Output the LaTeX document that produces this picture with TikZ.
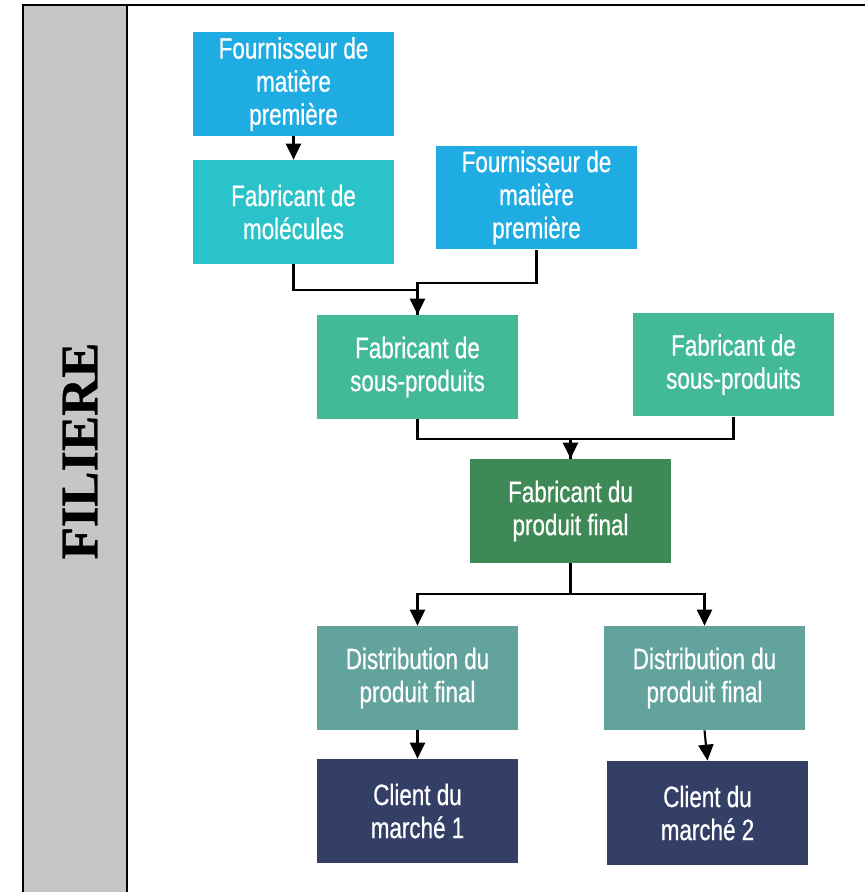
\documentclass[tikz,border=0pt]{standalone}
\usepackage{fontspec}
\setmainfont{Liberation Sans}[FakeStretch=0.76, FakeBold=0.6]
\newfontfamily\titlefont{Liberation Serif}[FakeBold=0.8]
\usepackage{xcolor}
\usetikzlibrary{arrows.meta,positioning}

\definecolor{fournblue}{HTML}{1FACE2}
\definecolor{molteal}{HTML}{29C3C9}
\definecolor{sousgreen}{HTML}{43BA97}
\definecolor{finalgreen}{HTML}{3E8955}
\definecolor{distteal}{HTML}{62A39E}
\definecolor{clientblue}{HTML}{343F68}
\definecolor{bandgray}{HTML}{C6C6C6}

\begin{document}
\begin{tikzpicture}[
    x=0.02cm, y=-0.02cm,
    box/.style={rectangle, minimum width=4.02cm, minimum height=2.08cm, inner sep=0pt, align=center, text=white, font=\fontsize{16.8}{18.8}\selectfont},
    fourn/.style={box, fill=fournblue},
    molec/.style={box, fill=molteal},
    sousp/.style={box, fill=sousgreen},
    final/.style={box, fill=finalgreen},
    distr/.style={box, fill=distteal},
    client/.style={box, fill=clientblue},
    arrow/.style={-{Triangle[width=0.3cm, length=0.32cm]}, line width=1.2pt},
    link/.style={line width=1.2pt}
]
    \useasboundingbox (0,0) rectangle (865,892);

    % Frame and side band
    \fill[bandgray] (23,5) rectangle (127,892);
    \draw[line width=1.5pt] (23,892) -- (23,5) -- (865,5);
    \draw[line width=1.2pt] (127,5) -- (127,892);
    \node[rotate=90, font=\titlefont\bfseries\fontsize{30}{30}\selectfont] (filiere) at (80,451) {FILIERE};

    % Suppliers and molecules
    \node[fourn] (fmp1) at (293.5,84) {Fournisseur de\\matière\\première};
    \node[molec] (fmol) at (293.5,212) {Fabricant de\\molécules};
    \node[fourn] (fmp2) at (536.5,197.5) {Fournisseur de\\matière\\première};

    % Sub-products
    \node[sousp] (fsp1) at (417.5,367) {Fabricant de\\sous-produits};
    \node[sousp] (fsp2) at (733.5,364.5) {Fabricant de\\sous-produits};

    % Final product
    \node[final] (fpf) at (570.5,511) {Fabricant du\\produit final};

    % Distribution
    \node[distr] (dpf1) at (417.5,678) {Distribution du\\produit final};
    \node[distr] (dpf2) at (704.5,678) {Distribution du\\produit final};

    % Clients
    \node[client] (cm1) at (417.5,811) {Client du\\marché 1};
    \node[client] (cm2) at (707.5,813) {Client du\\marché 2};

    % Arrows - upstream
    \draw[arrow] (fmp1) -- (fmol);
    \draw[arrow] (fmol.south) -- ++(0,26) -| (fsp1.north);
    \draw[link] (fmp2.south) -- ++(0,33.5) -| (fsp1.north);

    % Arrows - sub-products to final
    \draw[arrow] (fsp1.south) -- ++(0,20) -| (fpf.north);
    \draw[link] (fsp2.south) -- ++(0,22.5) -| (fpf.north);

    % Arrows - final to distribution
    \draw[arrow] (fpf.south) -- ++(0,31) -| (dpf1.north);
    \draw[arrow] (fpf.south) -- ++(0,31) -| (dpf2.north);

    % Arrows - distribution to clients
    \draw[arrow] (dpf1) -- (cm1);
    \draw[arrow] (dpf2.south) -- (cm2.north);
\end{tikzpicture}
\end{document}
